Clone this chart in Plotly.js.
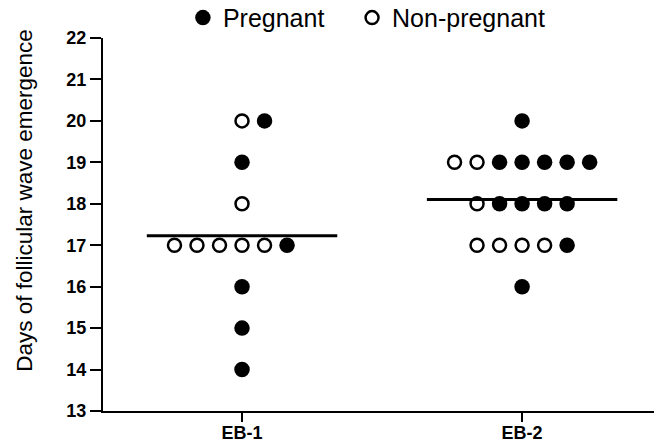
<!DOCTYPE html>
<html>
<head>
<meta charset="utf-8">
<script src="https://cdn.plot.ly/plotly-3.0.1.min.js"></script>
<style>html,body{margin:0;padding:0;background:#fff;}#chart{width:654px;height:444px;}</style>
</head>
<body>
<div id="chart"></div>
<script>
// ---- data ----
const groups = ["EB-1", "EB-2"];
const pregnantEB1 = [20, 19, 17, 16, 15, 14];
const nonPregnantEB1 = [20, 18, 17, 17, 17, 17, 17];
const pregnantEB2 = [20, 19, 19, 19, 19, 19, 18, 18, 18, 18, 17, 16];
const nonPregnantEB2 = [19, 19, 18, 17, 17, 17, 17];
const yTicks = [13, 14, 15, 16, 17, 18, 19, 20, 21, 22];
const seriesNames = ["Pregnant", "Non-pregnant"];
const yTitle = "Days of follicular wave emergence";

// ---- layout of points (dot-plot spreading) ----
const STEP = 0.0804;      // horizontal spacing between neighbouring dots
const rowShift = {"EB-1|20": 1};
function spread(groupIdx, nonPreg, preg) {
  const g = groupIdx + 1;
  const rows = {};
  nonPreg.forEach(v => { (rows[v] = rows[v] || []).push("N"); });
  preg.forEach(v => { (rows[v] = rows[v] || []).push("P"); });
  const out = {P: {x: [], y: []}, N: {x: [], y: []}};
  Object.keys(rows).forEach(k => {
    const items = rows[k];
    const n = items.length;
    const start = -Math.floor(n / 2) + (rowShift[groups[groupIdx] + "|" + k] || 0);
    items.forEach((t, i) => {
      out[t].x.push(g + (start + i) * STEP);
      out[t].y.push(Number(k));
    });
  });
  return out;
}
const s1 = spread(0, nonPregnantEB1, pregnantEB1);
const s2 = spread(1, nonPregnantEB2, pregnantEB2);
const mean = a => a.reduce((s, v) => s + v, 0) / a.length;
const means = [mean(pregnantEB1.concat(nonPregnantEB1)), mean(pregnantEB2.concat(nonPregnantEB2))];

const HALF = 0.34;
const traces = [
  {type: "scatter", mode: "markers", name: seriesNames[0], legend: "legend",
   x: s1.P.x.concat(s2.P.x), y: s1.P.y.concat(s2.P.y),
   marker: {symbol: "circle", size: 15.5, color: "#000", line: {width: 0}}, cliponaxis: false},
  {type: "scatter", mode: "markers", name: seriesNames[1], legend: "legend2",
   x: s1.N.x.concat(s2.N.x), y: s1.N.y.concat(s2.N.y),
   marker: {symbol: "circle", size: 13, color: "#fff", line: {width: 2.5, color: "#000"}}, cliponaxis: false}
];
groups.forEach((g, i) => {
  traces.push({type: "scatter", mode: "lines", showlegend: false,
    x: [i + 1 - HALF, i + 1 + HALF], y: [means[i], means[i]],
    line: {color: "#000", width: 3}, hoverinfo: "skip"});
});

const FONT = "Liberation Sans, Arial, sans-serif";
const legendBase = {orientation: "h", xanchor: "left", y: 1.054, yanchor: "middle",
                    font: {size: 25, color: "#000"}, itemwidth: 30, bgcolor: "rgba(0,0,0,0)"};
const layout = {
  width: 654, height: 444,
  margin: {l: 103, r: 0, t: 38, b: 33, autoexpand: false},
  paper_bgcolor: "#fff", plot_bgcolor: "#fff",
  font: {family: FONT, color: "#000"},
  showlegend: true,
  legend: Object.assign({}, legendBase, {x: 0.145}),
  legend2: Object.assign({}, legendBase, {x: 0.452}),
  xaxis: {range: [0.5036, 2.471], tickvals: [1, 2], ticktext: groups.map(g => "<b>" + g + "</b>"),
          showline: true, linewidth: 2, linecolor: "#000", ticks: "outside", ticklen: 9,
          tickwidth: 2, tickcolor: "#000", showgrid: false, zeroline: false,
          ticklabelstandoff: -5,
          tickfont: {size: 18, family: FONT}},
  yaxis: {range: [13, 22], tickvals: yTicks, ticktext: yTicks.map(v => "<b>" + v + "</b>"),
          showline: true, linewidth: 2, linecolor: "#000",
          ticks: "outside", ticklen: 11, tickwidth: 2, tickcolor: "#000", showgrid: false,
          zeroline: false,
          tickfont: {size: 18, family: FONT}},
  annotations: [{text: yTitle, textangle: -90, xref: "paper", yref: "paper",
                 x: -0.1416, y: 0.566, xanchor: "center", yanchor: "middle",
                 showarrow: false, font: {size: 22.5, color: "#000", family: FONT}}]
};
Plotly.newPlot("chart", traces, layout, {staticPlot: true, displayModeBar: false});
</script>
</body>
</html>
